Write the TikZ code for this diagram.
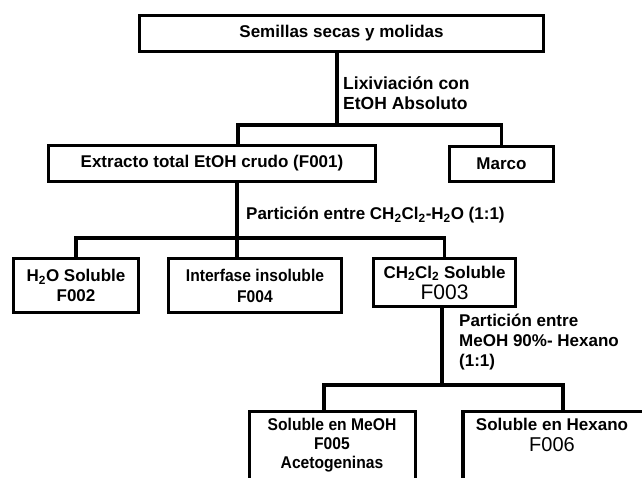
\documentclass[tikz,border=0pt]{standalone}
\usepackage{fontspec}
\setmainfont{Liberation Sans}
\newfontfamily\narrowfont{Liberation Sans}[FakeStretch=0.92]

\begin{document}
\begin{tikzpicture}[x=1pt,y=-1pt,
  box/.style={draw=black,line width=3.5pt,align=center,inner sep=0pt,
    font=\fontsize{17}{20}\selectfont\bfseries},
  link/.style={black,line width=3.5pt},
  note/.style={align=left,anchor=west,inner sep=0pt,
    font=\fontsize{17}{20}\selectfont\bfseries}]
  \clip (0,0) rectangle (642,477);
  \fill[white] (0,0) rectangle (642,477);
  % level 0 and 1
  \node[box,minimum width=404,minimum height=36] (seeds) at (341.5,33.5) {Semillas secas y molidas};
  \node[box,minimum width=327,minimum height=36] (extracto) at (212,163.5) {Extracto total EtOH crudo (F001)};
  \node[box,minimum width=104,minimum height=35] (marco) at (501.5,164) {Marco};
   \coordinate (bus1) at (337,125);
   \coordinate (bus1l) at (238,125);
  \draw[link] (seeds.south -| bus1) -- (bus1);
  \draw[link] (bus1l |- extracto.north) -- (bus1l) -- (marco.north |- bus1l) -- (marco.north);
  \node[note,font=\fontsize{17.5}{20}\selectfont\bfseries] (lixi) at (343,93) {Lixiviación con\\EtOH Absoluto};
  % level 2
  \node[box,minimum width=125,minimum height=54] (h2o) at (76,285.5) {H\textsubscript{2}O Soluble\\F002};
  \node[box,minimum width=173,minimum height=54,font=\fontsize{17}{21}\selectfont\narrowfont\bfseries] (interfase) at (255,285.5) {Interfase insoluble\\F004};
  \node[box,minimum width=142,minimum height=48] (ch2cl2) at (444.5,282.5) {CH\textsubscript{2}Cl\textsubscript{2} Soluble\\[1pt]{\fontsize{21}{21}\selectfont\mdseries F003}};
   \coordinate (bus2) at (237,238);
   \coordinate (bus2l) at (76,238);
  \draw[link] (extracto.south -| bus2) -- (interfase.north -| bus2);
  \draw[link] (h2o.north -| bus2l) -- (bus2l) -- (ch2cl2.north |- bus2l) -- (ch2cl2.north);
  \node[note] (part1) at (246,215) {Partición entre CH\textsubscript{2}Cl\textsubscript{2}-H\textsubscript{2}O (1:1)};
  % level 3
  \node[box,minimum width=166,minimum height=86] (meoh) at (332.5,454.5) {};
  \node[box,minimum width=198,minimum height=86] (hexano) at (562,454.5) {};
  \node[align=center,anchor=north,inner sep=0pt,font=\fontsize{17}{19}\selectfont\narrowfont\bfseries] (meohtxt) at (332,418) {Soluble en MeOH\\F005\\Acetogeninas};
  \node[align=center,anchor=north,inner sep=0pt,font=\fontsize{17}{21}\selectfont\bfseries] (hexanotxt) at (552,418) {Soluble en Hexano\\{\fontsize{20}{21}\selectfont\mdseries F006}};
   \coordinate (bus3) at (442,385);
   \coordinate (bus3l) at (324,385);
  \draw[link] (ch2cl2.south -| bus3) -- (bus3);
  \draw[link] (meoh.north -| bus3l) -- (bus3l) -- (563,385) coordinate (bus3r) -- (bus3r |- hexano.north);
  \node[note] (part2) at (459,342) {Partición entre\\MeOH 90\%- Hexano\\(1:1)};
\end{tikzpicture}
\end{document}
